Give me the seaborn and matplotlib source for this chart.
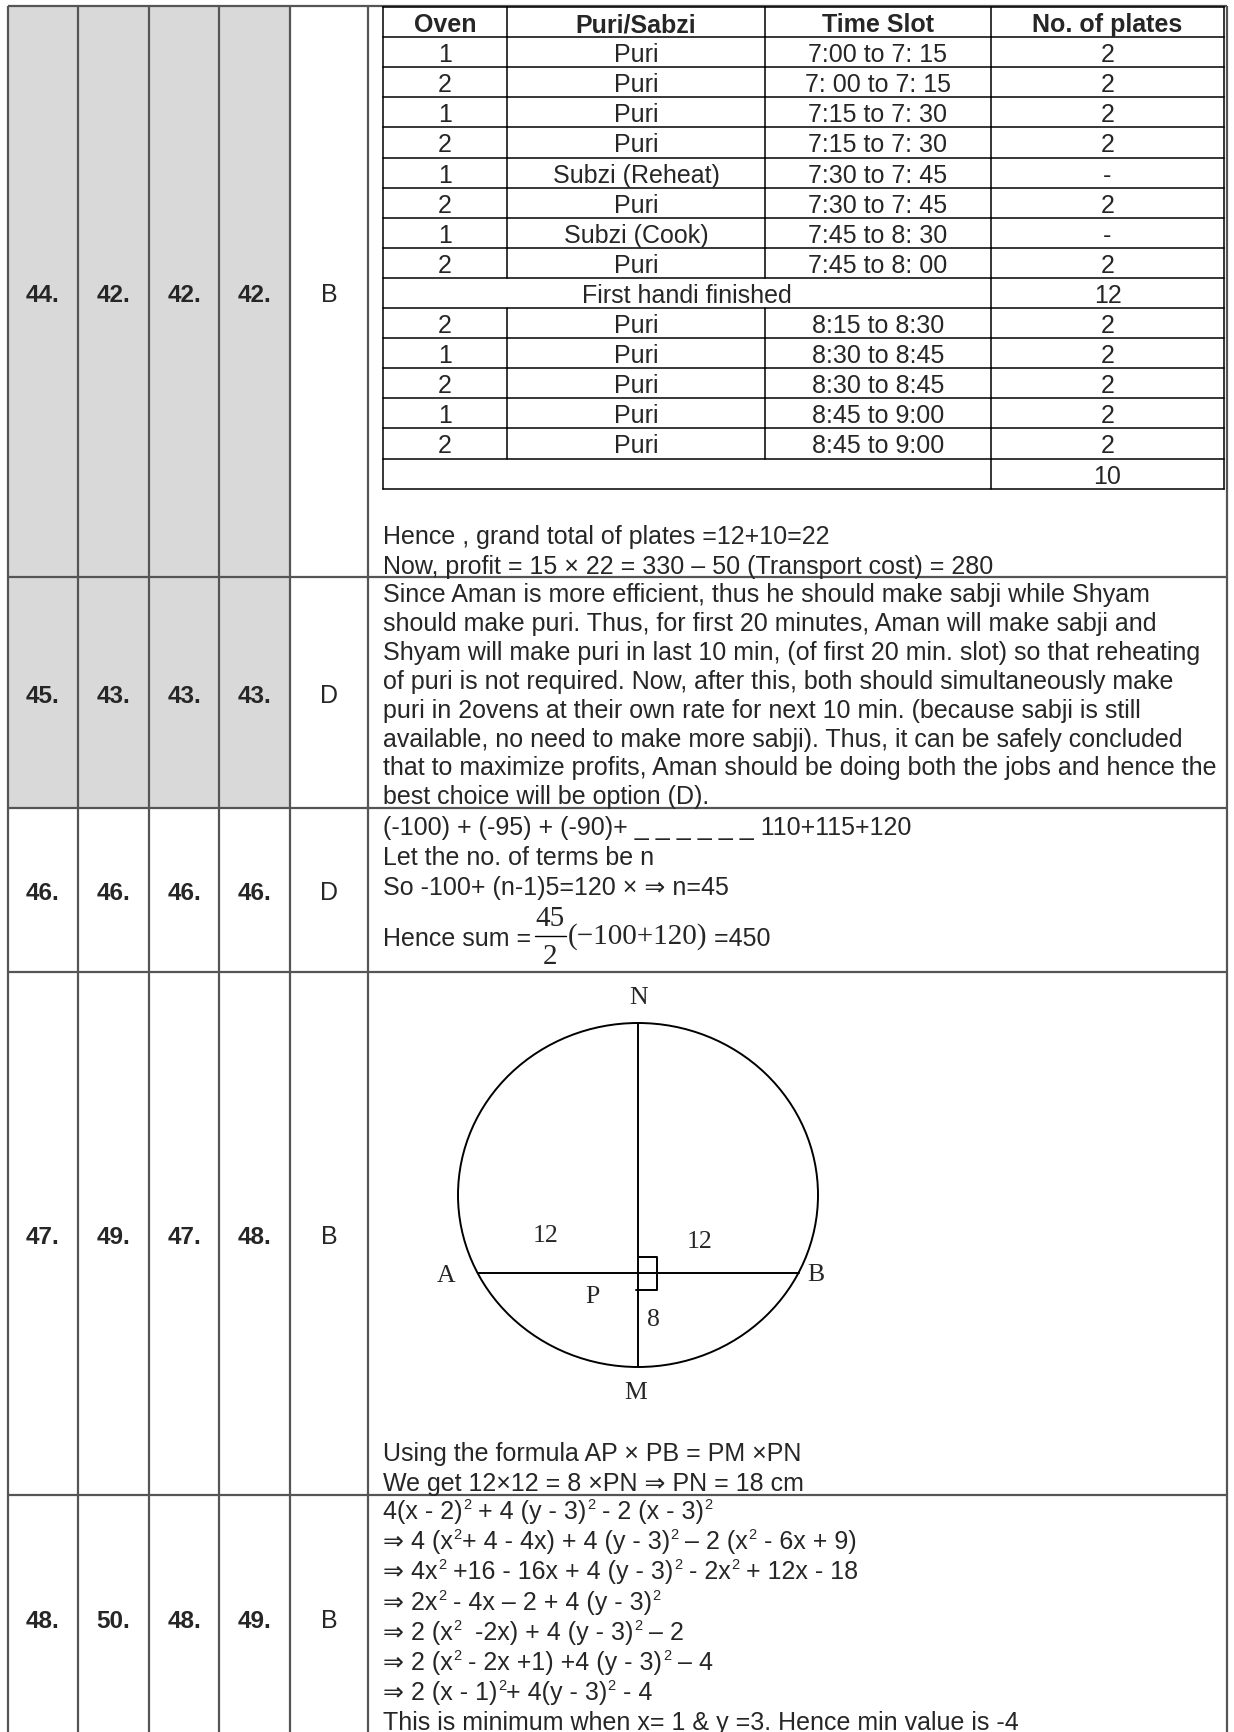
import matplotlib
matplotlib.use("Agg")
import matplotlib.pyplot as plt
from matplotlib.patches import Ellipse, Rectangle
import seaborn as sns

# question numbers in the four booklet sets and the answer key
set_a = ["44.", "45.", "46.", "47.", "48."]
set_b = ["42.", "43.", "46.", "49.", "50."]
set_c = ["42.", "43.", "46.", "47.", "48."]
set_d = ["42.", "43.", "46.", "48.", "49."]
answers = ["B", "D", "D", "B", "B"]
shaded_rows = [True, True, False, False, False]

# oven schedule table
oven_head = ["Oven", "Puri/Sabzi", "Time Slot", "No. of plates"]
oven_first = ["1", "2", "1", "2", "1", "2", "1", "2"]
dish_first = ["Puri", "Puri", "Puri", "Puri", "Subzi (Reheat)", "Puri", "Subzi (Cook)", "Puri"]
slot_first = ["7:00 to 7: 15", "7: 00 to 7: 15", "7:15 to 7: 30", "7:15 to 7: 30",
              "7:30 to 7: 45", "7:30 to 7: 45", "7:45 to 8: 30", "7:45 to 8: 00"]
plates_first = ["2", "2", "2", "2", "-", "2", "-", "2"]
first_label, first_total = "First handi finished", "12"
oven_second = ["2", "1", "2", "1", "2"]
dish_second = ["Puri", "Puri", "Puri", "Puri", "Puri"]
slot_second = ["8:15 to 8:30", "8:30 to 8:45", "8:30 to 8:45", "8:45 to 9:00", "8:45 to 9:00"]
plates_second = ["2", "2", "2", "2", "2"]
second_total = "10"

q44_text = ["Hence , grand total of plates =12+10=22",
            "Now, profit = 15 \u00d7 22 = 330 \u2013 50 (Transport cost) = 280"]
q45_text = ["Since Aman is more efficient, thus he should make sabji while Shyam",
            "should make puri. Thus, for first 20 minutes, Aman will make sabji and",
            "Shyam will make puri in last 10 min, (of first 20 min. slot) so that reheating",
            "of puri is not required. Now, after this, both should simultaneously make",
            "puri in 2ovens at their own rate for next 10 min. (because sabji is still",
            "available, no need to make more sabji). Thus, it can be safely concluded",
            "that to maximize profits, Aman should be doing both the jobs and hence the",
            "best choice will be option (D)."]
q46_text = ["(-100) + (-95) + (-90)+ _ _ _ _ _ _ 110+115+120",
            "Let the no. of terms be n",
            "So -100+ (n-1)5=120 \u00d7 \u21d2 n=45"]
q46_sum = ["Hence sum =", "45", "2", "(\u2212100+120)", " =450"]
q47_text = ["Using the formula AP \u00d7 PB = PM \u00d7PN",
            "We get 12\u00d712 = 8 \u00d7PN \u21d2 PN = 18 cm"]
circle_labels = ["N", "A", "B", "M", "P", "8", "12", "12"]
# "^" marks a superscript 2
q48_text = ["4(x - 2)^ + 4 (y - 3)^ - 2 (x - 3)^",
            "\u21d2 4 (x^+ 4 - 4x) + 4 (y - 3)^ \u2013 2 (x^ - 6x + 9)",
            "\u21d2 4x^ +16 - 16x + 4 (y - 3)^ - 2x^ + 12x - 18",
            "\u21d2 2x^ - 4x \u2013 2 + 4 (y - 3)^",
            "\u21d2 2 (x^  -2x) + 4 (y - 3)^ \u2013 2",
            "\u21d2 2 (x^ - 2x +1) +4 (y - 3)^ \u2013 4",
            "\u21d2 2 (x - 1)^+ 4(y - 3)^ - 4",
            "This is minimum when x= 1 & y =3. Hence min value is -4"]

sns.set_theme(style="white")
plt.rcParams['font.family'] = ['Liberation Sans', 'DejaVu Sans']
SERIF = ['Liberation Serif', 'DejaVu Serif']

W, H = 1234, 1733
fig = plt.figure(figsize=(W / 100, H / 100), dpi=100)
ax = fig.add_axes([0, 0, 1, 1])
ax.set_xlim(0, W)
ax.set_ylim(H, 0)
ax.axis('off')
renderer = fig.canvas.get_renderer()

FS = 18
GRID = '#555555'
col_x = [8, 78, 149, 219, 290, 368, 1227]
row_y = [7, 578, 809, 973, 1496, 1745]

# shading of the first four columns
for i, sh in enumerate(shaded_rows):
    if sh:
        ax.add_patch(Rectangle((col_x[0], row_y[i]), col_x[4] - col_x[0], row_y[i + 1] - row_y[i],
                               facecolor='#d9d9d9', edgecolor='none', zorder=0))

for y in row_y:
    ax.plot([col_x[0], col_x[-1]], [y, y], color=GRID, lw=1.6, solid_capstyle='butt')
for x in col_x:
    ax.plot([x, x], [row_y[0], row_y[-1]], color=GRID, lw=1.6, solid_capstyle='butt')

# question numbers and answers
for i in range(5):
    yc = (row_y[i] + row_y[i + 1]) / 2
    if i == 4:
        yc = 1619
    for j, col in enumerate([set_a, set_b, set_c, set_d]):
        ax.text((col_x[j] + col_x[j + 1]) / 2, yc + 9, col[i], ha='center', va='baseline',
                fontsize=17.5, fontweight='bold')
    ax.text((col_x[4] + col_x[5]) / 2, yc + 9, answers[i], ha='center', va='baseline', fontsize=FS)

# oven schedule table
tx = [383, 507, 765, 991, 1224]
ty0, rh = 8, 30.1
n_rows = 16
lw_t = 1.1
for r in range(n_rows + 1):
    ax.plot([tx[0], tx[-1]], [ty0 + r * rh] * 2, color='black', lw=lw_t, solid_capstyle='projecting')
ax.plot([tx[0], tx[0]], [ty0, ty0 + n_rows * rh], color='black', lw=lw_t)
ax.plot([tx[-1], tx[-1]], [ty0, ty0 + n_rows * rh], color='black', lw=lw_t)
for r in range(n_rows):
    xs = [tx[3]] if r in (9, 15) else tx[1:4]
    for x in xs:
        ax.plot([x, x], [ty0 + r * rh, ty0 + (r + 1) * rh], color='black', lw=lw_t)


def cell_row(r, vals, bold=False):
    yb = ty0 + (r + 0.5) * rh + 9
    for c, v in enumerate(vals):
        ax.text((tx[c] + tx[c + 1]) / 2, yb, v, ha='center', va='baseline', fontsize=FS,
                fontweight='bold' if bold else 'normal')


cell_row(0, oven_head, bold=True)
for k in range(len(oven_first)):
    cell_row(1 + k, [oven_first[k], dish_first[k], slot_first[k], plates_first[k]])
yb = ty0 + 9.5 * rh + 9
ax.text((tx[0] + tx[3]) / 2, yb, first_label, ha='center', va='baseline', fontsize=FS)
ax.text((tx[3] + tx[4]) / 2, yb, first_total, ha='center', va='baseline', fontsize=FS)
for k in range(len(oven_second)):
    cell_row(10 + k, [oven_second[k], dish_second[k], slot_second[k], plates_second[k]])
ax.text((tx[3] + tx[4]) / 2, ty0 + 15.5 * rh + 9, second_total, ha='center', va='baseline', fontsize=FS)

TX = 383


def text_width(s, size):
    # bar trick keeps leading / trailing spaces in the measure
    t1 = ax.text(0, 0, "|" + s + "|", fontsize=size)
    t2 = ax.text(0, 0, "||", fontsize=size)
    w = t1.get_window_extent(renderer).width - t2.get_window_extent(renderer).width
    t1.remove()
    t2.remove()
    return w


def rich_line(x, yb, s):
    parts = s.split("^")
    for k, p in enumerate(parts):
        if p:
            ax.text(x, yb, p, ha='left', va='baseline', fontsize=FS)
            x += text_width(p, FS)
        if k < len(parts) - 1:
            ax.text(x + 0.5, yb - 10, "2", ha='left', va='baseline', fontsize=10.5)
            x += text_width("2", 10.5) + 0.5


def para(lines, y0, step):
    for k, s in enumerate(lines):
        rich_line(TX, y0 + k * step + 9, s)


para(q44_text, 535, 30)
para(q45_text, 593, 28.9)
para(q46_text, 826, 30)

# fraction line of Q46
yc = 937
ax.text(TX, yc + 9, q46_sum[0], ha='left', va='baseline', fontsize=FS)
ax.text(550, 919, q46_sum[1], ha='center', va='center', fontsize=21, family=SERIF)
ax.plot([535, 566], [yc, yc], color='black', lw=1.0)
ax.text(550, 957, q46_sum[2], ha='center', va='center', fontsize=21, family=SERIF)
ax.text(568, yc, q46_sum[3], ha='left', va='center', fontsize=21, family=SERIF)
ax.text(707, yc + 9, q46_sum[4], ha='left', va='baseline', fontsize=FS)

# circle diagram of Q47
cx, cy, rx, ry = 638, 1196, 180, 172
ax.add_patch(Ellipse((cx, cy), 2 * rx, 2 * ry, fill=False, edgecolor='black', lw=1.4))
ax.plot([cx, cx], [cy - ry, cy + ry], color='black', lw=1.4)
ax.plot([477.5, 798.5], [1274, 1274], color='black', lw=1.4)
ax.plot([cx, 657, 657, 636], [1258, 1258, 1291, 1291], color='black', lw=1.4)
label_xy = [(639, 998), (446, 1276), (816, 1275), (636, 1393), (592, 1297),
            (653, 1320), (546, 1236), (700, 1242)]
for s, (x, y) in zip(circle_labels, label_xy):
    ax.text(x, y, s, ha='center', va='center', fontsize=18.5, family=SERIF)

para(q47_text, 1452, 30)
para(q48_text, 1510, 30.2)

fig.savefig("out.png", dpi=100, facecolor='white')
